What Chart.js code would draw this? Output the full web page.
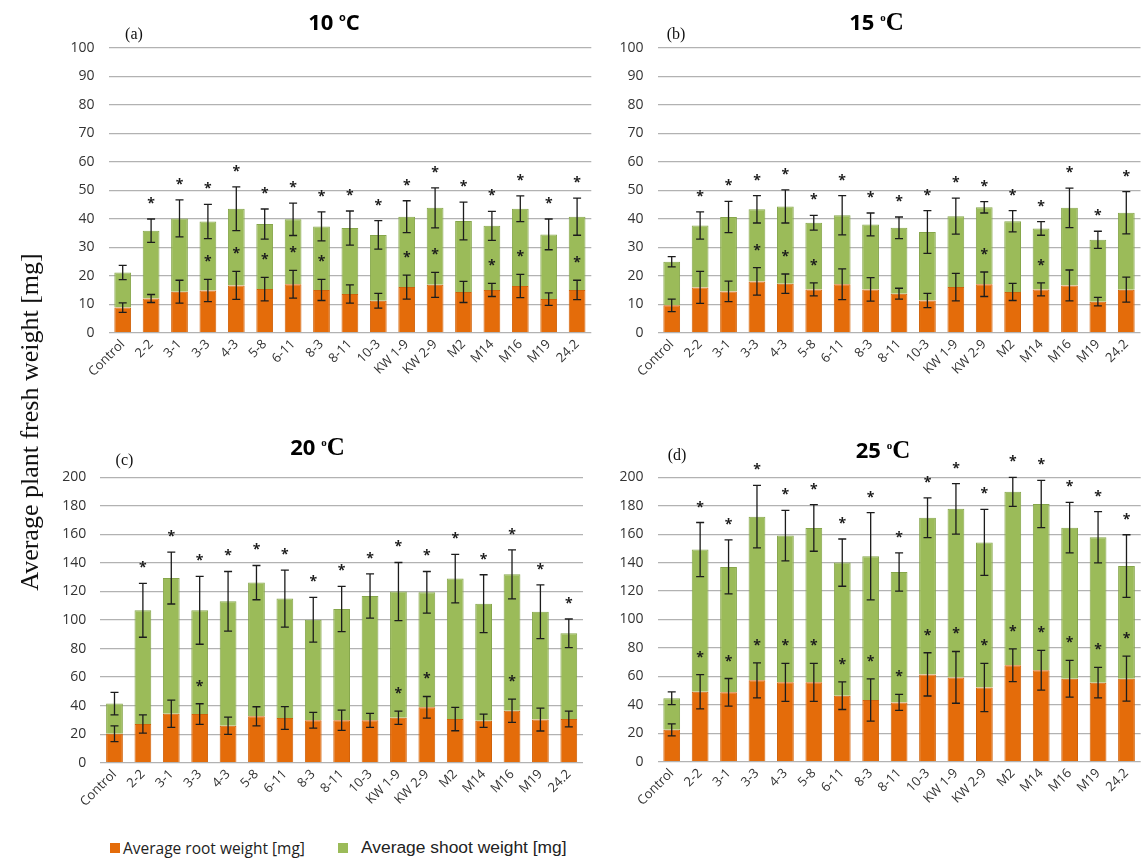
<!DOCTYPE html>
<html>
<head>
<meta charset="utf-8">
<title>Average plant fresh weight by temperature</title>
<script src="https://cdn.jsdelivr.net/npm/chart.js@4.4.0/dist/chart.umd.min.js"></script>
<style>
  html, body { margin: 0; padding: 0; background: #fff; }
  #page { position: relative; width: 1146px; height: 860px; overflow: hidden; background: #fff; }
  #page canvas { position: absolute; }
  #ytitle {
    position: absolute; left: -170px; top: 407px; width: 400px; height: 30px;
    line-height: 30px; text-align: center; white-space: nowrap;
    font-family: "Liberation Serif", serif; font-size: 26px; color: #111;
    transform: rotate(-90deg); transform-origin: 50% 50%;
  }
  .sw { position: absolute; width: 10px; height: 10px; }
  .lt { position: absolute; white-space: nowrap; color: #222; line-height: 20px; }
</style>
</head>
<body>
<div id="page">
  <canvas id="p10" width="560" height="420" style="left:40px;top:0px"></canvas>
  <canvas id="p15" width="546" height="420" style="left:600px;top:0px"></canvas>
  <canvas id="p20" width="560" height="410" style="left:40px;top:420px"></canvas>
  <canvas id="p25" width="546" height="410" style="left:600px;top:420px"></canvas>
  <div id="ytitle">Average plant fresh weight [mg]</div>
  <div class="sw" style="left:110px;top:843px;background:#E46C0A"></div>
  <div class="lt" style="left:123px;top:838px;font-family:'Open Sans',sans-serif;font-size:15.5px">Average root weight [mg]</div>
  <div class="sw" style="left:338px;top:843px;background:#9BBB59"></div>
  <div class="lt" style="left:361px;top:837px;font-family:'Liberation Sans',sans-serif;font-size:17.4px">Average shoot weight [mg]</div>
</div>
<script>
// Strains on the x axis (same for every temperature)
const categories = ['Control', '2-2', '3-1', '3-3', '4-3', '5-8', '6-11', '8-3', '8-11', '10-3',
                    'KW 1-9', 'KW 2-9', 'M2', 'M14', 'M16', 'M19', '24.2'];

// 10 °C
const root10     = [8.8, 12.0, 14.4, 14.8, 16.6, 15.3, 17.0, 15.0, 13.6, 11.2, 16.0, 16.8, 14.3, 15.0, 16.4, 11.8, 15.0];
const shoot10    = [12.3, 23.8, 25.7, 24.2, 26.9, 22.8, 22.8, 22.3, 23.1, 23.1, 24.7, 27.0, 24.9, 22.5, 27.1, 22.7, 25.7];
const rootErr10  = [1.7, 1.4, 4.0, 3.9, 4.9, 4.1, 4.9, 3.7, 3.2, 2.6, 4.2, 4.4, 3.7, 2.3, 4.1, 2.2, 3.4];
const shootErr10 = [2.5, 4.1, 6.5, 6.0, 7.7, 5.3, 5.7, 5.1, 6.0, 5.0, 5.6, 7.0, 6.6, 5.1, 4.5, 5.4, 6.5];
const rootSig10  = [0, 0, 0, 1, 1, 1, 1, 1, 0, 0, 1, 1, 0, 1, 1, 0, 1];
const shootSig10 = [0, 1, 1, 1, 1, 1, 1, 1, 1, 1, 1, 1, 1, 1, 1, 1, 1];

// 15 °C
const root15     = [9.6, 15.9, 14.5, 18.0, 17.2, 15.2, 17.0, 15.2, 13.7, 11.3, 16.0, 17.0, 14.3, 15.2, 16.6, 10.9, 15.1];
const shoot15    = [15.3, 21.7, 26.1, 25.3, 27.1, 23.4, 24.2, 22.8, 23.1, 24.0, 24.9, 27.0, 24.8, 21.4, 27.2, 21.7, 27.0];
const rootErr15  = [2.2, 5.6, 3.6, 4.8, 3.4, 2.3, 5.4, 4.1, 1.9, 2.5, 4.8, 4.3, 3.0, 2.3, 5.4, 1.5, 4.4];
const shootErr15 = [1.8, 4.8, 5.5, 4.8, 5.8, 2.6, 6.9, 4.0, 3.8, 7.5, 6.3, 2.0, 3.7, 2.4, 6.9, 3.0, 7.4];
const rootSig15  = [0, 0, 0, 1, 1, 1, 0, 0, 0, 0, 0, 1, 0, 1, 0, 0, 0];
const shootSig15 = [0, 1, 1, 1, 1, 1, 1, 1, 1, 1, 1, 1, 1, 1, 1, 1, 1];

// 20 °C
const root20     = [20.3, 27.1, 34.3, 34.1, 25.9, 32.5, 31.3, 29.7, 29.7, 29.7, 31.5, 38.8, 30.6, 29.4, 36.4, 30.2, 30.6];
const shoot20    = [21.1, 79.7, 95.1, 72.7, 87.2, 93.7, 83.7, 70.5, 78.0, 87.1, 88.4, 80.6, 98.4, 82.0, 95.6, 75.6, 60.1];
const rootErr20  = [5.5, 6.4, 9.6, 7.2, 6.1, 6.7, 8.0, 5.5, 7.1, 4.9, 4.6, 7.6, 8.2, 4.7, 8.2, 8.0, 5.5];
const shootErr20 = [7.9, 18.9, 18.2, 23.8, 20.9, 12.0, 20.0, 15.7, 15.8, 15.5, 20.4, 14.6, 17.0, 20.3, 17.2, 18.8, 10.0];
const rootSig20  = [0, 0, 0, 1, 0, 0, 0, 0, 0, 0, 1, 1, 0, 0, 1, 0, 0];
const shootSig20 = [0, 1, 1, 1, 1, 1, 1, 1, 1, 1, 1, 1, 1, 1, 1, 1, 1];

// 25 °C
const root25     = [22.4, 49.2, 48.8, 57.2, 55.8, 55.8, 46.4, 43.4, 41.7, 61.4, 59.3, 52.2, 67.8, 64.3, 58.3, 55.6, 58.4];
const shoot25    = [22.2, 100.0, 88.2, 115.1, 103.2, 108.6, 93.6, 101.1, 91.7, 110.2, 118.5, 102.0, 122.0, 116.9, 106.3, 102.2, 79.2];
const rootErr25  = [4.2, 12.0, 9.7, 12.3, 13.4, 13.4, 9.7, 14.9, 5.6, 15.2, 18.2, 17.0, 11.5, 14.0, 12.9, 10.7, 15.8];
const shootErr25 = [4.5, 19.0, 19.0, 22.0, 17.8, 16.4, 16.6, 30.7, 13.4, 14.0, 17.7, 23.2, 10.2, 16.6, 17.8, 18.0, 22.0];
const rootSig25  = [0, 1, 1, 1, 1, 1, 1, 1, 1, 1, 1, 1, 1, 1, 1, 1, 1];
const shootSig25 = [0, 1, 1, 1, 1, 1, 1, 1, 1, 1, 1, 1, 1, 1, 1, 1, 1];

const ROOT_COLOR = '#E46C0A';
const SHOOT_COLOR = '#9BBB59';
const TICK_FONT = '"Open Sans", sans-serif';

// Whiskers (mean ± SD) on top of each stacked segment, plus significance asterisks
const errorBars = {
  id: 'errorBars',
  afterDatasetsDraw(chart) {
    const { ctx, scales: { x, y } } = chart;
    const [rootDs, shootDs] = chart.data.datasets;
    ctx.save();
    ctx.strokeStyle = '#1c1c1c';
    ctx.fillStyle = '#1c1c1c';
    ctx.lineWidth = 1.3;
    ctx.font = 'bold 14px ' + TICK_FONT;
    ctx.textAlign = 'center';
    ctx.textBaseline = 'alphabetic';
    const whisker = (px, v, e) => {
      const yt = y.getPixelForValue(v + e);
      const yb = y.getPixelForValue(v - e);
      ctx.beginPath();
      ctx.moveTo(px, yt); ctx.lineTo(px, yb);
      ctx.moveTo(px - 4, yt); ctx.lineTo(px + 4, yt);
      ctx.moveTo(px - 4, yb); ctx.lineTo(px + 4, yb);
      ctx.stroke();
      return yt;
    };
    const star = (px, cy) => ctx.fillText('*', px, cy + 8);
    rootDs.data.forEach((r, i) => {
      const px = x.getPixelForValue(i);
      const total = r + shootDs.data[i];
      const rTop = whisker(px, r, rootDs.errors[i]);
      const sTop = whisker(px, total, shootDs.errors[i]);
      if (rootDs.stars[i]) star(px, rTop - 21);
      if (shootDs.stars[i]) star(px, sTop - 19);
    });
    ctx.restore();
  }
};

// Panel heading ("10 °C" with a raised degree sign) and the panel letter
function header(h) {
  return {
    id: 'header',
    afterDraw(chart) {
      const ctx = chart.ctx;
      ctx.save();
      ctx.fillStyle = '#000';
      ctx.textAlign = 'left';
      ctx.textBaseline = 'alphabetic';
      let w = 0;
      h.runs.forEach(r => { ctx.font = r.font; r.w = ctx.measureText(r.text).width; w += r.w; });
      let cx = h.tx - w / 2;
      h.runs.forEach(r => { ctx.font = r.font; ctx.fillText(r.text, cx, h.ty + (r.dy || 0)); cx += r.w; });
      ctx.font = '16px "Liberation Serif", serif';
      ctx.textAlign = 'center';
      ctx.textBaseline = 'middle';
      ctx.fillStyle = '#111';
      ctx.fillText(h.letter, h.lx, h.ly);
      ctx.restore();
    }
  };
}

function titleRuns(num, serifUnit) {
  const unitFam = serifUnit ? '"Liberation Serif", serif' : TICK_FONT;
  return [
    { text: num + ' ', font: 'bold 22px ' + TICK_FONT },
    { text: 'o', font: 'bold 11px ' + unitFam, dy: -9 },
    { text: 'C', font: 'bold ' + (serifUnit ? 25 : 22) + 'px ' + unitFam }
  ];
}

function buildPanel(id, p) {
  new Chart(document.getElementById(id), {
    type: 'bar',
    data: {
      labels: categories,
      datasets: [
        { label: 'Average root weight [mg]', data: p.root, errors: p.rootErr, stars: p.rootSig,
          backgroundColor: ROOT_COLOR, borderColor: '#D0620A', borderWidth: 1,
          barPercentage: 0.59, categoryPercentage: 1 },
        { label: 'Average shoot weight [mg]', data: p.shoot, errors: p.shootErr, stars: p.shootSig,
          backgroundColor: SHOOT_COLOR, borderColor: '#86A64B', borderWidth: 1,
          barPercentage: 0.59, categoryPercentage: 1 }
      ]
    },
    options: {
      responsive: false,
      animation: false,
      devicePixelRatio: 1,
      layout: { padding: { top: p.area.top, right: p.area.right, left: 0, bottom: 0 } },
      plugins: { legend: { display: false }, tooltip: { enabled: false }, title: { display: false } },
      scales: {
        x: {
          stacked: true,
          grid: { display: false, drawTicks: false },
          border: { display: false },
          ticks: { autoSkip: false, minRotation: 45, maxRotation: 45, padding: 4, color: '#333',
                   font: { family: TICK_FONT, size: 13 } },
          afterFit(s) { s.height = p.area.xh; }
        },
        y: {
          stacked: true,
          min: 0,
          max: p.yMax,
          grid: { color: '#B2B2B2', lineWidth: 1.3, drawTicks: false },
          border: { display: false },
          ticks: { stepSize: p.yStep, padding: 14, color: '#333', font: { family: TICK_FONT, size: 14 } },
          afterFit(s) { s.width = p.area.yw; }
        }
      }
    },
    plugins: [errorBars, header(p.header)]
  });
}

buildPanel('p10', {
  root: root10, shoot: shoot10, rootErr: rootErr10, shootErr: shootErr10, rootSig: rootSig10, shootSig: shootSig10,
  yMax: 100, yStep: 10,
  area: { yw: 68.5, top: 47.7, right: 8.7, xh: 87.3 },
  header: { runs: titleRuns('10', false), tx: 294, ty: 30, letter: '(a)', lx: 94, ly: 35 }
});
buildPanel('p15', {
  root: root15, shoot: shoot15, rootErr: rootErr15, shootErr: shootErr15, rootSig: rootSig15, shootSig: shootSig15,
  yMax: 100, yStep: 10,
  area: { yw: 57.5, top: 47.7, right: 5.5, xh: 87.3 },
  header: { runs: titleRuns('15', true), tx: 276.5, ty: 30, letter: '(b)', lx: 76, ly: 35 }
});
buildPanel('p20', {
  root: root20, shoot: shoot20, rootErr: rootErr20, shootErr: shootErr20, rootSig: rootSig20, shootSig: shootSig20,
  yMax: 200, yStep: 20,
  area: { yw: 60.3, top: 57.3, right: 17, xh: 67.3 },
  header: { runs: titleRuns('20', true), tx: 277.5, ty: 35, letter: '(c)', lx: 84.5, ly: 41 }
});
buildPanel('p25', {
  root: root25, shoot: shoot25, rootErr: rootErr25, shootErr: shootErr25, rootSig: rootSig25, shootSig: shootSig25,
  yMax: 200, yStep: 20,
  area: { yw: 57.5, top: 57.3, right: 5.3, xh: 68.3 },
  header: { runs: titleRuns('25', true), tx: 283, ty: 38, letter: '(d)', lx: 77, ly: 36 }
});
</script>
</body>
</html>
